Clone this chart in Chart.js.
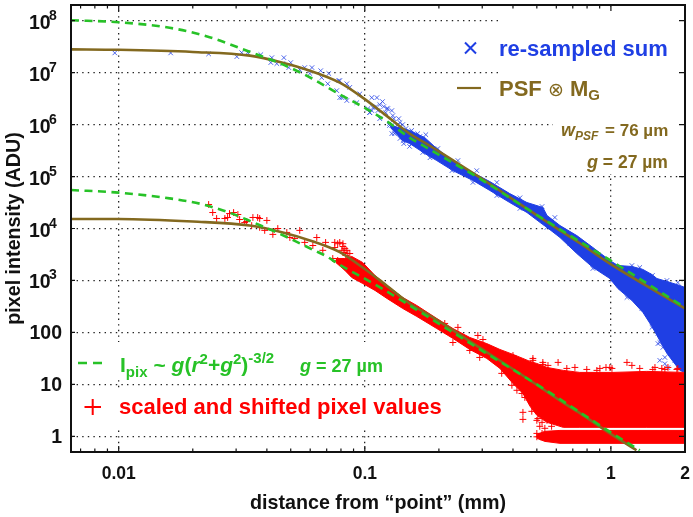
<!DOCTYPE html>
<html><head><meta charset="utf-8">
<style>html,body{margin:0;padding:0;background:#fff}canvas{display:block;filter:blur(.55px)}</style>
<script src="https://cdn.jsdelivr.net/npm/chart.js@4"></script>
</head><body><canvas id="c" width="693" height="517"></canvas>
<script>
const xTicks=[0.01,0.1,1,2];
const xTickLabels=['0.01','0.1','1','2'];
const xMinorTicks=[0.007,0.008,0.009,0.02,0.03,0.04,0.05,0.06,0.07,0.08,0.09,0.2,0.3,0.4,0.5,0.6,0.7,0.8,0.9];
const yTicks=[1,10,100,1e3,1e4,1e5,1e6,1e7,1e8];
const yTickLabels=['1','10','100','10','10','10','10','10','10'];
const yTickExponents=['','','','3','4','5','6','7','8'];

const psfX=[0.0064,0.01,0.02,0.0341,0.0464,0.0598,0.0791,0.098,0.118,0.152,0.184,0.293,0.469,0.62,0.748,0.99,2];
const psfUpper=[2.8e7,2.75e7,2.5e7,2.12e7,1.55e7,1.09e7,6.4e6,3.3e6,1.7e6,6.7e5,3.9e5,9.6e4,2.2e4,9.2e3,5.2e3,2.1e3,290];
const psfLowerX=[0.0064,0.01,0.02,0.0341,0.0464,0.0598,0.0791,0.098,0.118,0.152,0.184,0.293,0.469,0.62,0.748,0.99,1.27];
const psfLower=[1.52e4,1.52e4,1.36e4,1.14e4,8.4e3,5.9e3,3.5e3,1.78e3,920,360,210,51,12,4.9,2.8,1.14,0.54];

const greenUpperX=[0.0064,0.01,0.0161,0.0234,0.0334,0.0487,0.061,0.0769,0.098,0.123,0.152,0.184,0.293,0.469,0.748,1,2];
const greenUpper=[1.02e8,9.3e7,7.3e7,4.8e7,2.6e7,1.3e7,7.7e6,4.1e6,2.2e6,1.15e6,5.6e5,3.3e5,9.1e4,2.2e4,5.6e3,2.4e3,300];
const greenLowerX=[0.0064,0.01,0.0161,0.0214,0.0275,0.0341,0.0487,0.0615,0.0701,0.0777,0.098,0.11,0.139,0.308,0.53,1,1.31];
const greenLower=[5.5e4,4.9e4,3.8e4,3e4,2.1e4,1.4e4,6.7e3,3.9e3,2.9e3,2.1e3,1.14e3,840,430,41,8.4,1.19,0.54];

const blueX=[0.00964,0.01626,0.0232,0.0302,0.0316,0.0334,0.0378,0.0419,0.0415,0.0439,0.0469,0.0464,0.05,0.0491,0.0544,0.057,0.061,0.0598,0.0662,0.0668,0.0714,0.0707,0.0784,0.0769,0.0845,0.0845,0.0791,0.0791,0.0869,0.0955,0.0807,0.0928,0.1067,0.112,0.118,0.1047,0.108,0.123,0.113,0.13,0.126,0.139,0.132,0.148,0.143,0.115,1.162,1.337,1.44,1.468,1.553,1.58,1.626,1.51,1.553,1.58,1.657,1.82,1.705,1.657];
const blueY=[2.39e7,2.39e7,2.29e7,2.03e7,2.42e7,2.42e7,2.22e7,1.94e7,1.56e7,1.49e7,1.94e7,1.49e7,1.56e7,1.25e7,1.14e7,1.25e7,1.25e7,9.6e6,1.09e7,8e6,9.6e6,6.1e6,7e6,4.5e6,6.1e6,2.9e6,3.3e6,7e6,5.2e6,3.9e6,3.3e6,2.65e6,3.3e6,3.3e6,2.77e6,1.7e6,2.12e6,2.03e6,1.86e6,1.49e6,1.05e6,1.09e6,6.7e5,6.1e5,4.9e5,1.3e6,471,289,212,125,96,64,51.5,149,61,29,33,29,21,25];
const blueClusterX=[0.1029,0.1067,0.111,0.1047,0.1194,0.124,0.1288,0.1216,0.115,0.1312,0.1288,0.136,0.1426,0.1374,0.147,0.155,0.164,0.144,0.152,0.1675,0.177,0.126,0.1288,0.139,0.155,0.172,0.1706,0.184,0.18];
const blueClusterY=[2.03e6,1.86e6,2.22e6,1.7e6,2.22e6,2.03e6,1.86e6,1.7e6,2.42e6,1.3e6,9.6e5,1e6,1e6,1.3e6,8.4e5,7.7e5,6.7e5,4.3e5,3.8e5,5.9e5,6.4e5,9.6e5,6.7e5,5.4e5,4.3e5,2.9e5,5.4e5,2.3e5,3.45e5];
const blueEdgeX=[0.198,0.239,0.285,0.344,0.427,0.525,0.592,1.217,1.31,1.475,1.689,1.87,0.226,0.275,0.344,0.427,0.55,0.681,0.845,1.01];
const blueEdgeY=[3.45e5,2.03e5,1.3e5,7.7e4,3.9e4,2.65e4,1.63e4,1.94e3,1.78e3,1.25e3,1e3,912,1.3e5,7.7e4,4.3e4,2.43e4,1.05e4,5.1e3,1.7e3,1e3];

const blueBandX=[0.127,0.1426,0.1524,0.1754,0.196,0.228,0.275,0.322,0.388,0.456,0.529,0.55,0.621,0.727,0.845,0.99,1.067,1.217,1.349,1.468,1.538,1.689,1.906,2];
const blueBandTop=[9.6e5,8.4e5,7.7e5,5.6e5,3.45e5,2.03e5,1.19e5,8e4,4.7e4,3.16e4,2.54e4,1.78e4,1.14e4,7.3e3,4.3e3,2.43e3,1.94e3,1.86e3,1.63e3,1.3e3,1.09e3,957,801,733];
const blueBandBottom=[8.8e5,4.9e5,4.3e5,2.77e5,2.03e5,1.3e5,8.4e4,5.4e4,3.16e4,2.03e4,1.19e4,1.05e4,6.7e3,3.3e3,1.78e3,1.09e3,700,412,243,130,87.5,39.5,18.6,17];

const redX=[0.0232,0.0241,0.025,0.027,0.0277,0.0293,0.0282,0.0305,0.031,0.0325,0.0331,0.0351,0.0367,0.0374,0.04,0.0347,0.0392,0.0374,0.0443,0.0423,0.0482,0.0496,0.0544,0.0519,0.057,0.0638,0.0615,0.0693,0.0675,0.0755,0.0791,0.0815,0.0755,0.083,0.0853,0.0741,0.0776,0.482,0.61,1.162,1.217,0.555,0.662,0.798,0.902,0.99,0.439,0.439,0.477,1.31,1.51,1.657,1.87,0.714,0.5,0.514,0.539,0.574,0.5,0.519];
const redY=[2.9e4,2.03e4,1.56e4,1.56e4,1.63e4,2.03e4,1.94e4,1.86e4,1.49e4,1.3e4,1.36e4,1.63e4,1.63e4,1.56e4,1.43e4,1.14e4,9.2e3,1.05e4,1e4,7.7e3,8.4e3,6.7e3,9.2e3,6.4e3,5.4e3,6.7e3,4.7e3,5.4e3,3.8e3,5.4e3,5.4e3,5.1e3,4.3e3,4.1e3,3.3e3,2.65e3,2.43e3,29,26.5,26.5,23.2,23.2,20.3,19.4,20.3,21.2,2.9,2.12,3.03,20.3,21.2,19.4,20.3,21.2,2.03,1.56,1.43,1.56,1.14,0.98];
const redEdgeX=[0.2113,0.239,0.288,0.302,0.4,0.482,0.529,0.228,0.267,0.293,0.36,0.396,0.415,0.435,0.447,0.529,0.877,0.955,1.01,1.48,1.61,1.705,1.854,0.469,0.477,0.5,0.505,0.525,0.55,0.631,0.5,0.525,0.55,0.0776,0.0815,0.0845,0.0869,0.0807,0.0822,0.0837];
const redEdgeY=[149,125,87.5,73,36,31.6,26.5,64,45,33,16.3,9.6,7.7,6.7,5.6,24.2,18.6,21.2,20.3,19.4,20.3,21.2,19.4,4.9,4.3,3.16,2.2,1.86,2.03,2.32,0.98,1.14,0.916,5.1e3,4.5e3,3.8e3,3.3e3,3.8e3,3.45e3,3.03e3];

const redBandX=[0.0762,0.083,0.0885,0.098,0.11,0.123,0.1426,0.1626,0.196,0.228,0.267,0.313,0.354,0.4,0.439,0.469,0.5,0.55,0.64,0.748,1.02,1.4,2];
const redBandTop=[2.65e3,2.65e3,2.9e3,2.22e3,1.25e3,801,471,330,186,119,80,61,47,37.8,31.6,27.7,25.3,21.2,18.6,17,17,17.8,17];
const redBandBottom=[2.22e3,1.56e3,1.14e3,875,643,451,289,203,119,76.7,47,31.6,20.3,10.4,6.7,3.8,2.54,1.86,1.49,1.49,1.49,1.49,1.49];
const redLowX=[0.5,0.539,0.621,1,2];
const redLowTop=[1.09,1.25,1.3,1.3,1.3];
const redLowBottom=[0.916,0.8,0.733,0.733,0.733];

const BLUE='#1f3fe4',RED='#ff0000',BROWN='#83691f',GREEN='#27c227';
const pts=(xs,ys)=>xs.map((x,i)=>({x,y:ys[i]}));
const band=(xs,top,bottom,color,o)=>[
 {type:'line',data:pts(xs,top),fill:'+1',backgroundColor:color,borderColor:color,borderWidth:1,pointRadius:0,tension:0,order:o},
 {type:'line',data:pts(xs,bottom),fill:false,borderColor:color,borderWidth:1,pointRadius:0,tension:0,order:o}];
const curve=(xs,ys,color,o,extra)=>Object.assign({type:'line',data:pts(xs,ys),borderColor:color,backgroundColor:color,borderWidth:2.6,pointRadius:0,fill:false,cubicInterpolationMode:'monotone',order:o},extra||{});
const dash={borderDash:[8,5.5],borderWidth:2.6};
const blueMarks=(xs,ys,label)=>({label,data:pts(xs,ys),pointStyle:'crossRot',pointRadius:3.2,pointBorderWidth:1,borderColor:'rgba(35,65,230,.8)',backgroundColor:BLUE,order:9});
const redMarks=(xs,ys,label)=>({label,data:pts(xs,ys),pointStyle:'cross',pointRadius:3.4,pointBorderWidth:1,borderColor:RED,backgroundColor:RED,order:7});

function runs(ctx,x,y,list,color){
  ctx.fillStyle=color;ctx.textAlign='left';ctx.textBaseline='alphabetic';
  list.forEach(r=>{
    ctx.font=r[1];
    ctx.fillText(r[0],x,y+(r[2]||0));
    x+=ctx.measureText(r[0]).width+(r[3]||0);
  });
  return x;
}
const F='"Liberation Sans"';
const legendPlugin={
 id:'panelText',
 beforeDatasetsDraw(ch){
  const c=ch.ctx;c.save();c.fillStyle='#fff';
  c.fillRect(502,7,182,108);c.fillRect(553,115,131,59);
  c.fillRect(73,342,318,38);c.fillRect(73,388,378,40);
  c.restore();
 },
 afterDatasetsDraw(ch){
  const c=ch.ctx,xs=ch.scales.x,ys=ch.scales.y,a=ch.chartArea;
  c.save();
  c.strokeStyle='#111';c.lineWidth=1.2;
  const tick=(px,l)=>{[[a.bottom,-l],[a.top,l]].forEach(([b,d])=>{c.beginPath();c.moveTo(px,b);c.lineTo(px,b+d);c.stroke();});};
  xMinorTicks.forEach(v=>tick(xs.getPixelForValue(v),3.5));
  xTicks.forEach(v=>tick(xs.getPixelForValue(v),6));
  yTicks.forEach(v=>{const p=ys.getPixelForValue(v);c.beginPath();c.moveTo(a.left,p);c.lineTo(a.left+4,p);c.moveTo(a.right,p);c.lineTo(a.right-6,p);c.stroke();});
  c.strokeStyle='#111';c.lineWidth=2;c.strokeRect(a.left,a.top,a.right-a.left,a.bottom-a.top);

  yTicks.forEach((v,i)=>{
    const p=ys.getPixelForValue(v),e=yTickExponents[i];
    c.fillStyle='#111';c.textBaseline='alphabetic';
    if(e){
      c.font='bold 19.5px '+F;c.textAlign='left';c.fillText(yTickLabels[i],29,p+8);
      c.font='bold 14px '+F;c.fillText(e,49,p-1);
    }else{
      c.font='bold 19.5px '+F;c.textAlign='right';c.fillText(yTickLabels[i],62,p+7);
    }
  });

  c.strokeStyle=BLUE;c.lineWidth=2;c.beginPath();c.moveTo(465,42.5);c.lineTo(476,53.5);c.moveTo(476,42.5);c.lineTo(465,53.5);c.stroke();
  runs(c,499,56,[['re-sampled sum','bold 22px '+F]],BLUE);

  c.strokeStyle=BROWN;c.lineWidth=2.2;c.beginPath();c.moveTo(457,88);c.lineTo(481,88);c.stroke();
  runs(c,499,96,[['PSF ','bold 22px '+F],['⊗','19px "DejaVu Sans"'],[' M','bold 22px '+F],['G','bold 15px '+F,4]],BROWN);

  runs(c,561,136,[['w','italic bold 18px '+F],['PSF','italic bold 12px '+F,4,2],[' = 76 µm','bold 17px '+F]],BROWN);
  runs(c,587,168,[['g','italic bold 18px '+F],[' = 27 µm','bold 17.5px '+F]],BROWN);

  c.strokeStyle=GREEN;c.lineWidth=2.4;c.setLineDash([9,6]);c.beginPath();c.moveTo(78,363);c.lineTo(104,363);c.stroke();c.setLineDash([]);
  runs(c,120,372,[['I','bold 21px '+F],['pix','bold 15px '+F,5,6],['~ ','bold 21px '+F],['g','italic bold 21px '+F],['(','bold 21px '+F],['r','italic bold 21px '+F],['2','bold 15px '+F,-8],['+','bold 21px '+F],['g','italic bold 21px '+F],['2','bold 15px '+F,-8],[')','bold 21px '+F],['-3/2','bold 15px '+F,-9]],GREEN);
  runs(c,300,372,[['g','italic bold 18px '+F],[' = 27 µm','bold 18px '+F]],GREEN);

  c.strokeStyle=RED;c.lineWidth=2;c.beginPath();c.moveTo(84.5,407);c.lineTo(101,407);c.moveTo(92.7,399);c.lineTo(92.7,415);c.stroke();
  runs(c,119,414,[['scaled and shifted pixel values','bold 22px '+F]],RED);
  c.restore();
 }
};

const noPad=s=>{s.paddingLeft=s.paddingRight=s.paddingTop=s.paddingBottom=0};
const GRID_DASH=[1.4,4.2];
new Chart(document.getElementById('c'),{
 type:'scatter',
 data:{datasets:[
  blueMarks(blueX,blueY,'re-sampled sum'),
  blueMarks(blueClusterX,blueClusterY,'re-sampled sum, cluster'),
  blueMarks(blueEdgeX,blueEdgeY,'re-sampled sum, edge'),
  ...band(blueBandX,blueBandTop,blueBandBottom,BLUE,8),
  redMarks(redX,redY,'scaled and shifted pixel values'),
  redMarks(redEdgeX,redEdgeY,'scaled and shifted pixel values, edge'),
  ...band(redBandX,redBandTop,redBandBottom,RED,6),
  ...band(redLowX,redLowTop,redLowBottom,RED,6),
  curve(psfX,psfUpper,BROWN,3),
  curve(psfLowerX,psfLower,BROWN,3),
  curve(greenUpperX,greenUpper,GREEN,2,dash),
  curve(greenLowerX,greenLower,GREEN,2,dash)
 ]},
 options:{
  responsive:false,animation:false,
  layout:{padding:{top:5,right:8,left:0,bottom:0}},
  plugins:{legend:{display:false},tooltip:{enabled:false}},
  scales:{
   x:{type:'logarithmic',min:0.0064,max:2,
    afterFit:s=>{s.height=65;noPad(s)},
    afterBuildTicks:s=>{s.ticks=xTicks.map(v=>({value:v}))},
    grid:{color:'#222',lineWidth:1.3,drawTicks:false},
    border:{display:false,dash:GRID_DASH},
    ticks:{autoSkip:false,maxRotation:0,padding:12,color:'#111',font:{family:'Liberation Sans',weight:'bold',size:17.5},callback:(v,i)=>xTickLabels[i]},
    title:{display:true,text:'distance from “point” (mm)',color:'#111',font:{family:'Liberation Sans',weight:'bold',size:19.7},padding:{top:0,bottom:2}}},
   y:{type:'logarithmic',min:0.5,max:2e8,
    afterFit:s=>{s.width=71;noPad(s)},
    afterBuildTicks:s=>{s.ticks=yTicks.map(v=>({value:v}))},
    grid:{color:'#222',lineWidth:1.3,drawTicks:false},
    border:{display:false,dash:GRID_DASH},
    ticks:{display:false},
    title:{display:true,text:'pixel intensity (ADU)',color:'#111',font:{family:'Liberation Sans',weight:'bold',size:19.7},padding:{top:3,bottom:0}}}
  }
 },
 plugins:[legendPlugin]
});
</script></body></html>
